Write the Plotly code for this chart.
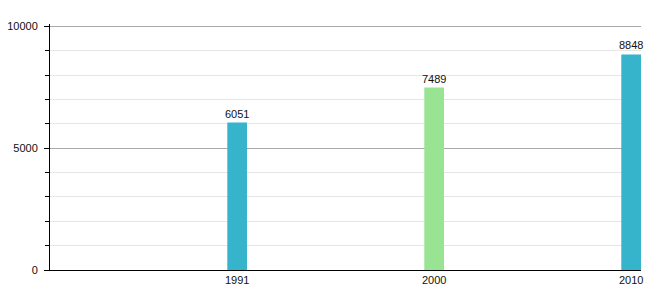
import plotly.graph_objects as go

years = ["1991", "2000", "2010"]
values = [6051, 7489, 8848]
colors = ["#35b4cc", "#98e493", "#35b4cc"]
positions = [1, 2, 3]
y_ticks = [0, 5000, 10000]
y_tick_labels = ["0", "5000", "10000"]

fig = go.Figure()
fig.add_trace(go.Bar(
    x=positions, y=values, width=0.1,
    marker=dict(color=colors, line=dict(width=0)),
    text=[str(v) for v in values], textposition="outside",
    constraintext="none",
    textfont=dict(size=11, color="#111"), cliponaxis=False,
))

fig.update_layout(
    width=660, height=300,
    margin=dict(l=50, r=19, t=24, b=30),
    plot_bgcolor="white", paper_bgcolor="white",
    font=dict(family="Liberation Sans, Arial, sans-serif", size=11, color="#111"),
    showlegend=False,
    xaxis=dict(
        range=[0.05, 3.05], tickvals=positions, ticktext=years,
        showgrid=False, zeroline=False, showline=True, linecolor="#000", linewidth=1,
        ticks="", tickfont=dict(size=11, color="#111"), automargin=False,
    ),
    yaxis=dict(
        range=[0, 10100], tickvals=y_ticks, ticktext=y_tick_labels,
        showgrid=True, gridcolor="#aaaaaa", gridwidth=1,
        zeroline=False, showline=True, linecolor="#000", linewidth=1,
        ticks="outside", ticklen=5, tickcolor="#000",
        ticklabelstandoff=4, automargin=False,
        minor=dict(dtick=1000, showgrid=True, gridcolor="#e6e6e6", ticks="outside", ticklen=4, tickcolor="#000"),
        tickfont=dict(size=11, color="#111"),
    ),
)

fig.write_html("out.html")
